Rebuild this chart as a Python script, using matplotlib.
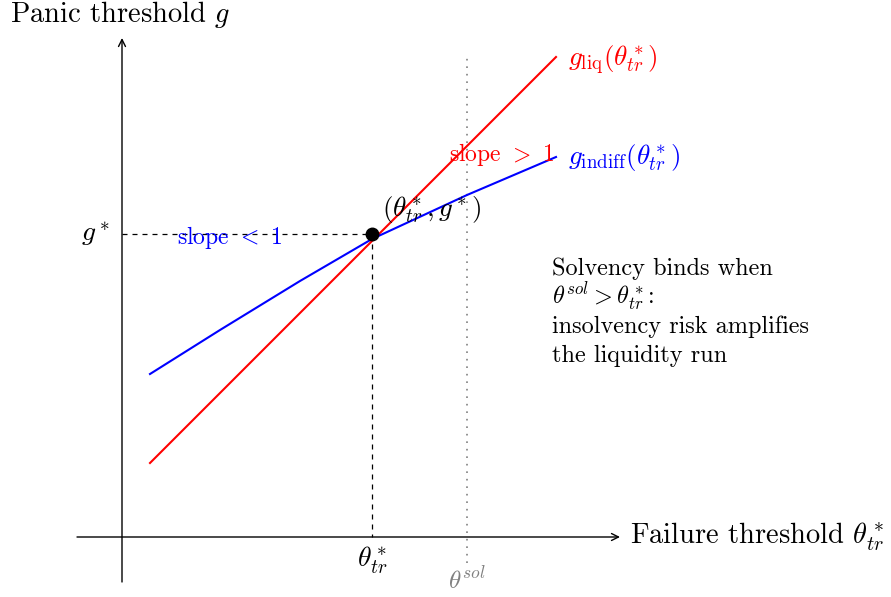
import matplotlib
matplotlib.use("Agg")
import matplotlib.pyplot as plt

plt.rcParams["font.family"] = "serif"
plt.rcParams["font.serif"] = ["cmr10", "DejaVu Serif"]
plt.rcParams["mathtext.fontset"] = "cm"
plt.rcParams["axes.unicode_minus"] = False

# (schematic units)
theta_star = 5.0
g_star = 6.06
theta_sol = 6.9

liq_x = [0.56, 8.68]
liq_y = [1.48, 9.6]

indiff_x = [0.56, 1.96, 3.56, 5.0, 6.9, 8.68]
indiff_y = [3.26, 4.14, 5.12, 5.96, 6.84, 7.6]

note_lines = [
    "Solvency binds when",
    r"$\theta^{sol} > \theta^*_{tr}$:",
    "insolvency risk amplifies",
    "the liquidity run",
]

RED = "#ff0000"
BLUE = "#0000ff"
GRAY = "#808080"

fig = plt.figure(figsize=(8.91, 5.97), dpi=100)
ax = fig.add_axes([0, 0, 1, 1])
ax.set_xlim(-2.44, 15.38)
ax.set_ylim(-1.2, 10.74)
ax.axis("off")

# axes with arrows
arrow = dict(arrowstyle="->,head_length=0.5,head_width=0.25", lw=1.0, color="black",
             shrinkA=0, shrinkB=0)
ax.annotate("", xy=(9.96, 0), xytext=(-0.9, 0), arrowprops=arrow)
ax.annotate("", xy=(0, 9.98), xytext=(0, -0.9), arrowprops=arrow)

ax.text(9.96 + 0.2, 0.0, r"Failure threshold $\theta^*_{tr}$", fontsize=20.5,
        ha="left", va="center")
ax.text(-0.04, 10.3, r"Panic threshold $g$", fontsize=20.5, ha="center", va="baseline")

# dotted solvency line
ax.plot([theta_sol, theta_sol], [-0.52, 9.6], color=GRAY, lw=1.2, ls=(0, (1, 3.5)))
ax.text(theta_sol, -0.86, r"$\theta^{sol}$", color=GRAY, fontsize=18,
        ha="center", va="center")

# dashed guides
ax.plot([0, theta_star], [g_star, g_star], color="black", lw=0.9, ls=(0, (4, 4)))
ax.plot([theta_star, theta_star], [g_star, 0], color="black", lw=0.9, ls=(0, (4, 4)))

# curves
ax.plot(liq_x, liq_y, color=RED, lw=1.5)
ax.plot(indiff_x, indiff_y, color=BLUE, lw=1.5)

ax.plot([theta_star], [g_star], "o", color="black", ms=9, zorder=5)

ax.text(-0.24, g_star, r"$g^*$", fontsize=20, ha="right", va="center")
ax.text(theta_star, -0.46, r"$\theta^*_{tr}$", fontsize=20, ha="center", va="center")
ax.text(5.2, 6.54, r"$(\theta^*_{tr}, g^*)$", fontsize=19.5, ha="left", va="center")

ax.text(2.16, 5.98, r"slope $<$ 1", color=BLUE, fontsize=17, ha="center", va="center")
ax.text(7.6, 7.64, r"slope $>$ 1", color=RED, fontsize=17, ha="center", va="center")

ax.text(8.92, 9.54, r"$g_{\mathrm{liq}}(\theta^*_{tr})$", color=RED, fontsize=19.5,
        ha="left", va="center")
ax.text(8.92, 7.58, r"$g_{\mathrm{indiff}}(\theta^*_{tr})$", color=BLUE, fontsize=19.5,
        ha="left", va="center")

for i, line in enumerate(note_lines):
    ax.text(8.6, 5.24 - i * 0.58, line, fontsize=17.5, ha="left", va="baseline")

fig.savefig("out.png", dpi=100)
